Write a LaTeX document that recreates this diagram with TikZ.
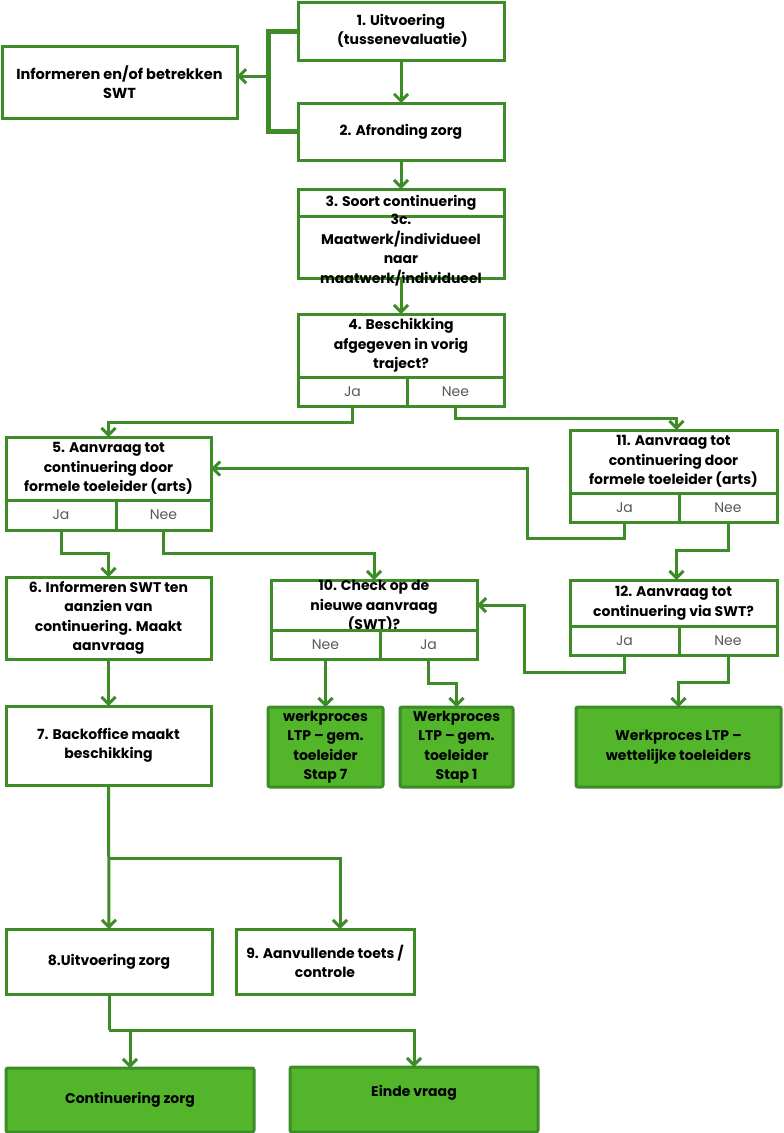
\documentclass[tikz,border=0pt]{standalone}
\usepackage{fontspec}
\setmainfont{Poppins}
\usetikzlibrary{arrows.meta,positioning,calc}
\definecolor{lijn}{RGB}{62,140,40}
\definecolor{vul}{RGB}{82,181,42}

\begin{document}
\begin{tikzpicture}[x=1pt,y=-1pt,
		every node/.style={outer sep=0pt},
		box/.style={draw=lijn,line width=3pt,fill=white,align=center,inner sep=2pt,
			font=\bfseries\fontsize{14}{19.5}\selectfont},
		eind/.style={box,fill=vul,rounded corners=2pt},
		cel/.style={draw=lijn,line width=3pt,fill=white,anchor=north west,minimum height=29pt,
			inner sep=0pt,text=black!65,font=\fontsize{14}{16}\selectfont},
		tekst/.style={align=center,inner sep=0pt,font=\bfseries\fontsize{14}{19.5}\selectfont},
		pijl/.style={draw=lijn,line width=3pt,-{Straight Barb[length=7pt,width=14pt]}},
		lijnstuk/.style={draw=lijn,line width=3pt}
		]
		\useasboundingbox (0,0) rectangle (784,1133);
		
		% --- top column
		\node[box,minimum width=206pt,minimum height=58pt] (b1) at (401,31) {1. Uitvoering\\ \ (tussenevaluatie)};
		\node[box,minimum width=206pt,minimum height=57pt] (b2) at (401,131.5) {2. Afronding zorg};
		\node[box,minimum width=235pt,minimum height=72pt,font=\bfseries\fontsize{14.5}{19}\selectfont] (info) at (119.5,82) {Informeren en/of betrekken\\ SWT};
		
		\node[box,minimum width=206pt,minimum height=27pt] (b3kop) at (401,202.5) {3. Soort continuering};
		\node[box,minimum width=206pt,minimum height=62pt,anchor=north] (b3) at (b3kop.south) {};
		\node[tekst] (b3txt) at (401,250) {3c.\\ Maatwerk/individueel\\ naar\\ maatwerk/individueel};
		
		% --- question 4
		\node[box,minimum width=206pt,minimum height=63pt] (b4) at (401,345.5) {4. Beschikking\\ afgegeven in vorig\\ traject?};
		\node[cel,minimum width=109pt] (b4ja) at (b4.south west) {Ja};
		\node[cel,minimum width=97pt] (b4nee) at (b4ja.north east) {Nee};
		
		% --- question 5 and 11
		\node[box,minimum width=205pt,minimum height=63pt] (b5) at (108.5,468.5) {5. Aanvraag tot\\ continuering door\\ formele toeleider (arts)};
		\node[cel,minimum width=110pt,minimum height=30pt] (b5ja) at (b5.south west) {Ja};
		\node[cel,minimum width=95pt,minimum height=30pt] (b5nee) at (b5ja.north east) {Nee};
		
		\node[box,minimum width=207pt,minimum height=63pt] (b11) at (673.5,461.5) {11. Aanvraag tot\\ continuering door\\ formele toeleider (arts)};
		\node[cel,minimum width=109pt] (b11ja) at (b11.south west) {Ja};
		\node[cel,minimum width=98pt] (b11nee) at (b11ja.north east) {Nee};
		
		% --- row 6, 10, 12
		\node[box,minimum width=205pt,minimum height=82pt] (b6) at (108.5,618) {6. Informeren SWT ten\\ aanzien van\\ continuering. Maakt\\ aanvraag};
		
		\node[box,minimum width=206pt,minimum height=50pt] (b10) at (374,605) {};
		\node[tekst] (b10txt) at (374,606.5) {10. Check op de\\ nieuwe aanvraag\\ (SWT)?};
		\node[cel,minimum width=109pt] (b10nee) at (b10.south west) {Nee};
		\node[cel,minimum width=97pt] (b10ja) at (b10nee.north east) {Ja};
		
		\node[box,minimum width=207pt,minimum height=46pt] (b12) at (673.5,603) {12. Aanvraag tot\\ continuering via SWT?};
		\node[cel,minimum width=109pt] (b12ja) at (b12.south west) {Ja};
		\node[cel,minimum width=98pt] (b12nee) at (b12ja.north east) {Nee};
		
		% --- row 7 and end points
		\node[box,minimum width=205pt,minimum height=79pt] (b7) at (108.5,745.5) {7. Backoffice maakt\\ beschikking};
		\node[eind,minimum width=115pt,minimum height=80pt] (gem7) at (325.5,747) {werkproces\\ LTP -- gem.\\ toeleider\\ Stap 7};
		\node[eind,minimum width=113pt,minimum height=80pt] (gem1) at (456.5,747) {Werkproces\\ LTP -- gem.\\ toeleider\\ Stap 1};
		\node[eind,minimum width=205pt,minimum height=80pt] (wet) at (678.5,747) {Werkproces LTP --\\ wettelijke toeleiders};
		
		% --- bottom
		\node[box,minimum width=206pt,minimum height=65pt] (b8) at (109,961.5) {8.Uitvoering zorg};
		\node[box,minimum width=178pt,minimum height=65pt] (b9) at (325,961.5) {9. Aanvullende toets /\\ controle};
		\node[eind,minimum width=248pt,minimum height=64pt] (cont) at (130,1100) {Continuering zorg};
		\node[eind,minimum width=248pt,minimum height=65pt,text depth=18pt] (einde) at (414,1099.5) {Einde vraag};
		
		% --- connectors
		\draw[pijl] (b1.south) -- (b2.north);
		\draw[lijnstuk,line width=5pt] (b1.west) -- ++(-30,0) |- (b2.west);
		\coordinate (haak) at ($(b1.west)!0.45!(b2.west)+(-30,0)$);
		\draw[pijl] (haak) -- (haak -| info.east);
		\draw[pijl] (b2.south) -- (b3kop.north);
		\draw[pijl] (b3.south) -- (b4.north);
		
		\draw[pijl] (b4ja.south) -- ++(0,16) -| (b5.north);
		\draw[pijl] (b4nee.south) -- ++(0,12) -| ([xshift=3pt]b11.north);
		\draw[pijl] (b11ja.south) -- ++(0,16) -| ([xshift=316pt]b5.east) -- (b5.east);
		\draw[pijl] (b11nee.south) -- ++(0,28) -| ([xshift=3pt]b12.north);
		
		\draw[pijl] (b5ja.south) -- ++(0,23) -| (b6.north);
		\draw[pijl] (b5nee.south) -- ++(0,23) -| (b10.north);
		\draw[pijl] (b12ja.south) -- ++(0,17) -| ([xshift=47pt]b10.east) -- (b10.east);
		\draw[pijl] (b12nee.south) -- ++(0,27) -| (wet.north);
		\draw[pijl] (b10nee.south) -- (gem7.north);
		\draw[pijl] (b10ja.south) -- ++(0,24) -| (gem1.north);
		
		\draw[pijl] (b6.south) -- (b7.north);
		\coordinate (tak1) at ($(b7.south)+(0,73)$);
		\draw[pijl] (b7.south) -- (b8.north);
		\draw[pijl] (tak1) -| ([xshift=15pt]b9.north);
		
		\coordinate (tak2) at ($(b8.south)+(0,36)$);
		\draw[lijnstuk] (b8.south) -- (tak2);
		\draw[pijl] (tak2) -| (einde.north);
		\draw[pijl] (tak2 -| cont.north) -- (cont.north);
		
	\end{tikzpicture}
\end{document}
